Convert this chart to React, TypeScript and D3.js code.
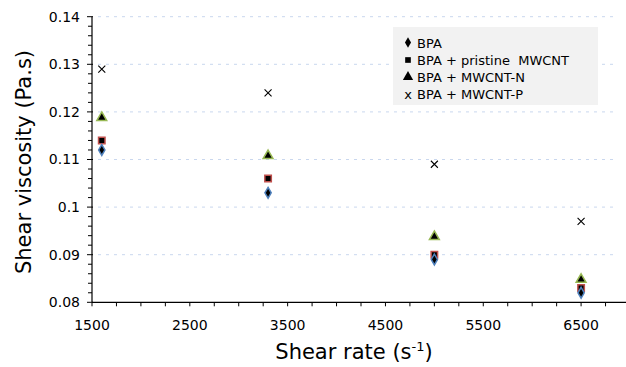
import React from "react";
import * as d3 from "d3";

const shearRates = [1600, 3300, 5000, 6500];
const bpa = [0.112, 0.103, 0.089, 0.082];
const pristine = [0.114, 0.106, 0.09, 0.083];
const mwcntN = [0.119, 0.111, 0.094, 0.085];
const mwcntP = [0.129, 0.124, 0.109, 0.097];
const xTicks = [1500, 2500, 3500, 4500, 5500, 6500];
const yTicks = [0.08, 0.09, 0.1, 0.11, 0.12, 0.13, 0.14];
const yTickLabels = ["0.08", "0.09", "0.1", "0.11", "0.12", "0.13", "0.14"];
const legendLabels = ["BPA", "BPA + pristine  MWCNT", "BPA + MWCNT-N", "BPA + MWCNT-P"];

const W = 626, H = 367;
const FONT = "'DejaVu Sans', Verdana, sans-serif";

export default function App() {
  const x = d3.scaleLinear().domain([1500, 7000]).range([92, 630]);
  const y = d3.scaleLinear().domain([0.08, 0.14]).range([302.3, 16.7]);
  const xMinor = d3.range(1500, 7001, 250);
  const yMinor = d3.range(0, 31).map((i) => 0.08 + i * 0.002);

  const diamond = d3.symbol().type(d3.symbolDiamond).size(34)()!;
  const square = d3.symbol().type(d3.symbolSquare).size(42)()!;
  const triangle = d3.symbol().type(d3.symbolTriangle).size(42)()!;
  const lDiamond = d3.symbol().type(d3.symbolDiamond).size(32)()!;
  const lSquare = d3.symbol().type(d3.symbolSquare).size(32)()!;
  const lTriangle = d3.symbol().type(d3.symbolTriangle).size(46)()!;

  const cross = (cx: number, cy: number, r: number, key: string) => (
    <path key={key} d={`M${cx - r},${cy - r}L${cx + r},${cy + r}M${cx - r},${cy + r}L${cx + r},${cy - r}`} stroke="#000" strokeWidth={1.1} />
  );

  return (
    <svg width={W} height={H} style={{ position: "absolute", left: 0, top: 0, background: "#fff" }} fontFamily={FONT}>
      <rect width={W} height={H} fill="#fff" />
      {yTicks.slice(1).map((t) => (
        <line key={"g" + t} x1={98} x2={615} y1={y(t)} y2={y(t)} stroke="#c9d7ee" strokeWidth={1} strokeDasharray="3,5" />
      ))}
      <line x1={x(1500)} x2={x(1500)} y1={y(0.14)} y2={y(0.08)} stroke="#000" strokeWidth={1.2} />
      {yMinor.map((t, i) => (
        <line key={"ym" + i} x1={x(1500) - (i % 5 === 0 ? 5 : 4)} x2={x(1500) + (i % 5 === 0 ? 1 : 0)} y1={y(t)} y2={y(t)} stroke="#000" strokeWidth={1} />
      ))}
      {yTicks.map((t, i) => (
        <text key={"yl" + t} x={80} y={y(t)} dy="0.35em" textAnchor="end" fontSize={14} fill="#000">{yTickLabels[i]}</text>
      ))}
      <line x1={x(1500)} x2={626} y1={y(0.08)} y2={y(0.08)} stroke="#000" strokeWidth={1.2} />
      {xMinor.map((t, i) => (
        <line key={"xm" + i} x1={x(t)} x2={x(t)} y1={y(0.08)} y2={y(0.08) + 4} stroke="#000" strokeWidth={1} />
      ))}
      {xTicks.map((t) => (
        <text key={"xl" + t} x={x(t)} y={330} textAnchor="middle" fontSize={14} fill="#000">{t}</text>
      ))}
      <text transform={`translate(31,162) rotate(-90)`} textAnchor="middle" fontSize={21} fill="#000">Shear viscosity (Pa.s)</text>
      <text x={354} y={359} textAnchor="middle" fontSize={21} fill="#000">
        Shear rate (s<tspan dy="-8" fontSize={13}>-1</tspan><tspan dy="8">)</tspan>
      </text>
      {shearRates.map((r, i) => cross(x(r), y(mwcntP[i]), 3.5, "x" + i))}
      {shearRates.map((r, i) => (
        <path key={"t" + i} d={triangle} transform={`translate(${x(r)},${y(mwcntN[i]) + 1})`} fill="#000" stroke="#98b954" strokeWidth={1.5} />
      ))}
      {shearRates.map((r, i) => (
        <path key={"s" + i} d={square} transform={`translate(${x(r)},${y(pristine[i])})`} fill="#000" stroke="#c0504d" strokeWidth={1.5} />
      ))}
      {shearRates.map((r, i) => (
        <path key={"d" + i} d={diamond} transform={`translate(${x(r)},${y(bpa[i])})`} fill="#000" stroke="#4f81bd" strokeWidth={1.5} />
      ))}
      <rect x={393} y={27} width={205} height={78} fill="#f2f2f2" />
      {legendLabels.map((l, i) => {
        const base = 47.5 + i * 17;
        const cy = base - 4.5;
        let m;
        if (i === 0) m = <path d={lDiamond} transform={`translate(408,${cy - 0.5})`} fill="#000" />;
        else if (i === 1) m = <path d={lSquare} transform={`translate(408,${cy})`} fill="#000" />;
        else if (i === 2) m = <path d={lTriangle} transform={`translate(408,${cy})`} fill="#000" />;
        else m = <text x={408} y={base} textAnchor="middle" fontSize={13} fill="#000">x</text>;
        return (
          <g key={"lg" + i}>
            {m}
            <text x={417} y={base} fontSize={13} fill="#000" style={{ whiteSpace: "pre" }}>{l}</text>
          </g>
        );
      })}
    </svg>
  );
}
